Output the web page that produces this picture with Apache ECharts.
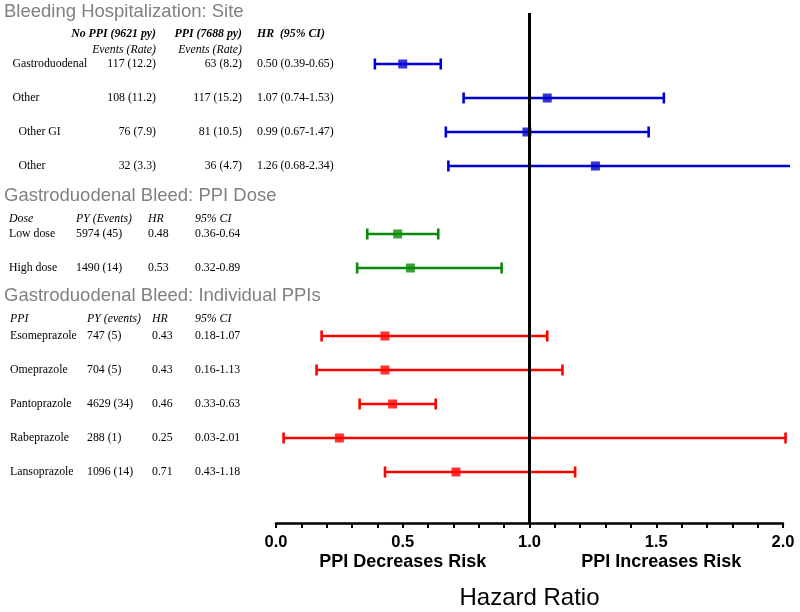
<!DOCTYPE html>
<html><head><meta charset="utf-8">
<script src="https://cdn.jsdelivr.net/npm/echarts@6/dist/echarts.min.js"></script>
<style>html,body{margin:0;padding:0;background:#fff}#c{width:800px;height:612px}</style>
</head><body><div id="c"></div><script>
// ---- data ----
const siteRows = ['Gastroduodenal', 'Other', 'Other GI', 'Other'];
const siteLevel = [0, 0, 1, 1];
const siteNoPPI = ['117 (12.2)', '108 (11.2)', '76 (7.9)', '32 (3.3)'];
const sitePPI = ['63 (8.2)', '117 (15.2)', '81 (10.5)', '36 (4.7)'];
const siteHR = [0.50, 1.07, 0.99, 1.26];
const siteLo = [0.39, 0.74, 0.67, 0.68];
const siteHi = [0.65, 1.53, 1.47, 2.34];

const doseRows = ['Low dose', 'High dose'];
const dosePY = ['5974 (45)', '1490 (14)'];
const doseHR = [0.48, 0.53];
const doseLo = [0.36, 0.32];
const doseHi = [0.64, 0.89];

const ppiRows = ['Esomeprazole', 'Omeprazole', 'Pantoprazole', 'Rabeprazole', 'Lansoprazole'];
const ppiPY = ['747 (5)', '704 (5)', '4629 (34)', '288 (1)', '1096 (14)'];
const ppiHR = [0.43, 0.43, 0.46, 0.25, 0.71];
const ppiLo = [0.18, 0.16, 0.33, 0.03, 0.43];
const ppiHi = [1.07, 1.13, 0.63, 2.01, 1.18];

const titles = ['Bleeding Hospitalization: Site', 'Gastroduodenal Bleed: PPI Dose', 'Gastroduodenal Bleed: Individual PPIs'];
const xTicks = [0, 0.5, 1, 1.5, 2];

// ---- rows on a category axis (one slot before each group holds its header) ----
const slots = [];
function addGroup(rows, tag) { slots.push(tag + '_head'); const start = slots.length; rows.forEach((r, i) => slots.push(tag + '_' + i)); return rows.map((r, i) => start + i); }
const siteIdx = addGroup(siteRows, 'site');
const doseIdx = addGroup(doseRows, 'dose');
const ppiIdx = addGroup(ppiRows, 'ppi');
slots.push('end');

const BLUE = '#0000d0', GREEN = '#0a8a0a', RED = '#ff0000';
const SERIF = '"Liberation Serif", "Times New Roman", serif';
const SANS = '"Liberation Sans", Arial, sans-serif';

function errRender(color) {
  return function (params, api) {
    const lo = api.value(0), hi = api.value(1), s = api.value(2);
    const p1 = api.coord([lo, s]), p2 = api.coord([hi, s]);
    const cs = params.coordSys;
    const limit = cs.x + cs.width + 7;
    const x2 = Math.min(p2[0], limit);
    const h = 5.5;
    const st = { stroke: color, lineWidth: 2.6 };
    const ch = [
      { type: 'line', shape: { x1: p1[0], y1: p1[1], x2: x2, y2: p1[1] }, style: st },
      { type: 'line', shape: { x1: p1[0], y1: p1[1] - h, x2: p1[0], y2: p1[1] + h }, style: st }
    ];
    if (p2[0] <= limit) ch.push({ type: 'line', shape: { x1: p2[0], y1: p2[1] - h, x2: p2[0], y2: p2[1] + h }, style: st });
    return { type: 'group', children: ch };
  };
}

function groupSeries(idx, lo, hi, hr, color, withRef) {
  const s = [{
    type: 'custom', renderItem: errRender(color), silent: true,
    encode: { x: [0, 1], y: 2 },
    data: idx.map((k, i) => [lo[i], hi[i], k]), z: 2
  }, {
    type: 'scatter', symbol: 'rect', symbolSize: 9, silent: true,
    itemStyle: { color: color },
    data: idx.map((k, i) => [hr[i], k]), z: 4
  }];
  if (withRef) {
    s[1].markLine = {
      silent: true, symbol: 'none', animation: false,
      label: { show: false },
      lineStyle: { color: '#000', width: 3, type: 'solid' },
      data: [{ xAxis: 1 }]
    };
  }
  return s;
}

const chart = echarts.init(document.getElementById('c'));
chart.setOption({
  animation: false,
  grid: { left: 276, right: 17, top: 13, bottom: 89, outerBoundsMode: 'none', containLabel: false },
  xAxis: {
    type: 'value', min: 0, max: 2, interval: 0.5,
    axisLine: { show: true, lineStyle: { color: '#000', width: 2.5 } },
    axisTick: { show: true, length: 5, lineStyle: { color: '#000', width: 2 } },
    minorTick: { show: true, splitNumber: 5, length: 5, lineStyle: { color: '#000', width: 2 } },
    splitLine: { show: false },
    axisLabel: { formatter: v => v.toFixed(1), color: '#000', fontFamily: SANS, fontWeight: 'bold', fontSize: 16.5, margin: 11 },
    name: 'Hazard Ratio', nameLocation: 'middle', nameGap: 63,
    nameTextStyle: { color: '#000', fontFamily: SANS, fontSize: 24 }
  },
  yAxis: { type: 'category', data: slots, inverse: true, axisLine: { show: false }, axisTick: { show: false }, axisLabel: { show: false }, splitLine: { show: false } },
  series: [
    ...groupSeries(siteIdx, siteLo, siteHi, siteHR, BLUE, true),
    ...groupSeries(doseIdx, doseLo, doseHi, doseHR, GREEN, false),
    ...groupSeries(ppiIdx, ppiLo, ppiHi, ppiHR, RED, false)
  ]
});

// ---- table text ----
const g = [];
const FS = 11.8;
function txt(text, x, y, o) {
  o = o || {};
  g.push({ type: 'text', silent: true, x: x, y: y, style: {
    text: text, align: o.align || 'left', verticalAlign: 'middle',
    font: o.font || (FS + 'px ' + SERIF), fill: o.fill || '#000' } });
}
const rowY = k => chart.convertToPixel({ yAxisIndex: 0 }, k);
const titleFont = '18.5px ' + SANS;
const bi = 'italic bold ' + FS + 'px ' + SERIF, it = 'italic ' + FS + 'px ' + SERIF;

txt(titles[0], 4, 11.5, { font: titleFont, fill: '#808080' });
txt('No PPI (9621 py)', 156, 34, { font: bi, align: 'right' });
txt('PPI (7688 py)', 242, 34, { font: bi, align: 'right' });
txt('HR  (95% CI)', 257, 34, { font: bi });
txt('Events (Rate)', 156, 50, { font: it, align: 'right' });
txt('Events (Rate)', 242, 50, { font: it, align: 'right' });
siteRows.forEach((r, i) => {
  const y = rowY(siteIdx[i]);
  txt(r, siteLevel[i] ? 18.5 : 12.5, y);
  txt(siteNoPPI[i], 156, y, { align: 'right' });
  txt(sitePPI[i], 242, y, { align: 'right' });
  txt(siteHR[i].toFixed(2) + ' (' + siteLo[i].toFixed(2) + '-' + siteHi[i].toFixed(2) + ')', 257, y);
});

txt(titles[1], 4, 196, { font: titleFont, fill: '#808080' });
[['Dose', 9], ['PY (Events)', 76], ['HR', 148], ['95% CI', 195]].forEach(h => txt(h[0], h[1], 219, { font: it }));
doseRows.forEach((r, i) => {
  const y = rowY(doseIdx[i]);
  txt(r, 9, y); txt(dosePY[i], 76, y); txt(doseHR[i].toFixed(2), 148, y);
  txt(doseLo[i].toFixed(2) + '-' + doseHi[i].toFixed(2), 195, y);
});

txt(titles[2], 4, 296, { font: titleFont, fill: '#808080' });
[['PPI', 10], ['PY (events)', 87], ['HR', 152], ['95% CI', 195]].forEach(h => txt(h[0], h[1], 319, { font: it }));
ppiRows.forEach((r, i) => {
  const y = rowY(ppiIdx[i]);
  txt(r, 10, y); txt(ppiPY[i], 87, y); txt(ppiHR[i].toFixed(2), 152, y);
  txt(ppiLo[i].toFixed(2) + '-' + ppiHi[i].toFixed(2), 195, y);
});

// direction labels under the axis
const bf = 'bold 18px ' + SANS;
txt('PPI Decreases Risk', chart.convertToPixel({ xAxisIndex: 0 }, xTicks[1]), 562, { font: bf, align: 'center' });
txt('PPI Increases Risk', chart.convertToPixel({ xAxisIndex: 0 }, xTicks[3]) + 5, 562, { font: bf, align: 'center' });

chart.setOption({ graphic: g });
</script></body></html>
